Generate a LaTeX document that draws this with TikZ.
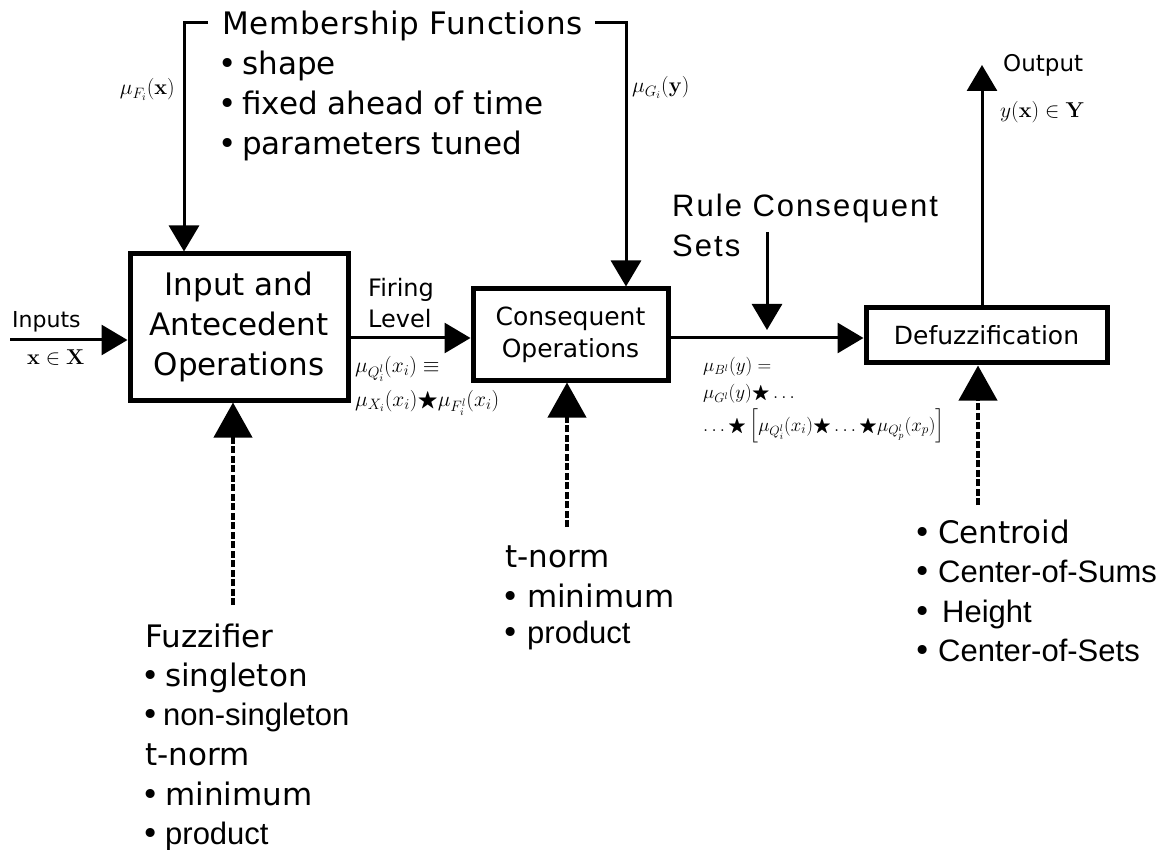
\RequirePackage{fix-cm}
\documentclass[tikz,border=0pt]{standalone}
\usepackage{amssymb}
\usepackage[no-math]{fontspec}
\setmainfont{DejaVu Sans}
\newfontfamily\lib{Liberation Sans}
\newfontfamily\libsp[LetterSpace=6.5]{Liberation Sans}
\newfontfamily\dvsp[LetterSpace=2]{DejaVu Sans}
\usetikzlibrary{arrows.meta}
\newcommand\bl[1]{\makebox[#1][l]{•}}
\begin{document}
\begin{tikzpicture}[x=1pt,y=-1pt,
  box/.style={draw, line width=5pt, rectangle, inner sep=0pt, align=center},
  conn/.style={line width=3pt, -{Triangle[length=26pt,width=30pt]}},
  dconn/.style={line width=4pt, dash pattern=on 7pt off 2.5pt, -{Triangle[length=35pt,width=38pt]}},
  lab/.style={inner sep=0pt, anchor=base west},
  big/.style={font=\fontsize{31}{40}\selectfont},
  mth/.style={inner sep=0pt, font=\fontsize{19}{23}\selectfont},
  mthb/.style={inner sep=0pt, font=\fontsize{21.5}{25}\selectfont}]
\useasboundingbox (0,0) rectangle (1173,850);
% boxes
\node[box, minimum width=218pt, minimum height=146pt, font=\fontsize{31}{40}\selectfont] (b1) at (239,327) {Input and\\Antecedent\\Operations};
\node[box, minimum width=195pt, minimum height=91pt, font=\fontsize{25}{32}\selectfont] (b2) at (570.5,334.5) {Consequent\\Operations};
\node[box, minimum width=241pt, minimum height=55pt, font=\fontsize{25}{30}\selectfont] (b3) at (986.5,335.5) {Defuzzification};
% membership functions
\node[lab, font=\fontsize{31}{40}\dvsp] (mf) at (222,35) {Membership Functions};
\node[lab,big] (mf1) at (218,75) {\bl{24pt}shape};
\node[lab,big] (mf2) at (218,115) {\bl{24pt}fixed ahead of time};
\node[lab,big] (mf3) at (218,155) {\bl{24pt}parameters tuned};
\coordinate (mfL) at (208,23);
\coordinate (mfR) at (595,23);
\coordinate (mfx) at (184,0);
\coordinate (mgx) at (626,0);
\draw[conn] (mfL) -| (mfx |- b1.north);
\draw[conn] (mfR) -| (mgx |- b2.north);
\node[mthb, anchor=base east] (muF) at (175,95) {$\mu_{F_i}(\mathbf{x})$};
\node[mthb, anchor=base west] (muG) at (632,93) {$\mu_{G_i}(\mathbf{y})$};
% inputs
\coordinate (inp) at (10,340);
\draw[conn] (inp) -- (inp -| b1.west);
\node[lab, font=\fontsize{22}{26}\selectfont] (inl) at (12,327) {Inputs};
\node[mthb, anchor=base west] (inx) at (27,365) {$\mathbf{x}\in\mathbf{X}$};
% firing level
\coordinate (fy) at (0,338);
\draw[conn] (fy -| b1.east) -- (fy -| b2.west);
\node[lab, font=\fontsize{24}{30}\selectfont] (fl1) at (368,297) {Firing};
\node[lab, font=\fontsize{24}{30}\selectfont] (fl2) at (368,328) {Level};
\node[mthb, anchor=base west] (fq1) at (355,372) {$\mu_{Q_i^l}(x_i)\equiv$};
\node[mthb, anchor=base west] (fq2) at (355,406) {$\mu_{X_i}(x_i)\bigstar\mu_{F_i^l}(x_i)$};
% consequent to defuzz
\draw[conn] (fy -| b2.east) -- (fy -| b3.west);
\node[lab, font=\fontsize{31}{38}\libsp] (rc1) at (672,217) {Rule Consequent};
\node[lab, font=\fontsize{31}{38}\libsp] (rc2) at (672,257) {Sets};
\coordinate (rcs) at (767,232);
\coordinate (rce) at (767,330);
\draw[conn] (rcs) -- (rce);
\node[mth, anchor=base west] (fb1) at (703,371) {$\mu_{B^l}(y)=$};
\node[mth, anchor=base west] (fb2) at (703,399) {$\mu_{G^l}(y)\bigstar\ldots$};
\node[mth, anchor=base west] (fb3) at (703,431) {$\ldots\bigstar\left[\mu_{Q_i^l}(x_i)\bigstar\ldots\bigstar\mu_{Q_p^l}(x_p)\right]$};
% output
\coordinate (outp) at (982,65);
\draw[conn] (outp |- b3.north) -- (outp);
\node[lab, font=\fontsize{23}{28}\selectfont] (outl) at (1003,72) {Output};
\node[mthb, anchor=base west] (outy) at (1000,118) {$y(\mathbf{x})\in\mathbf{Y}$};
% bottom dashed arrows
\coordinate (fzt) at (233,605);
\draw[dconn] (fzt) -- (fzt |- b1.south);
\coordinate (tnt) at (567,527);
\draw[dconn] (tnt) -- (tnt |- b2.south);
\coordinate (dft) at (978,505);
\draw[dconn] (dft) -- (dft |- b3.south);
% fuzzifier list
\node[lab,big] (fz0) at (145,647) {Fuzzifier};
\node[lab,big] (fz1) at (141,686) {\bl{24pt}singleton};
\node[lab,big] (fz2) at (141,725) {\bl{22pt}{\lib non-singleton}};
\node[lab,big] (fz3) at (145,765) {t-norm};
\node[lab,big] (fz4) at (141,805) {\bl{24pt}minimum};
\node[lab,big] (fz5) at (141,844) {\bl{24pt}{\lib product}};
% middle list
\node[lab,big] (tn0) at (505,567) {t-norm};
\node[lab,big] (tn1) at (501,607) {\bl{26pt}minimum};
\node[lab,big] (tn2) at (501,643) {\bl{26pt}{\lib product}};
% right list
\node[lab,big] (df1) at (913,543) {\bl{25pt}Centroid};
\node[lab,big] (df2) at (913,582) {\bl{25pt}{\lib Center-of-Sums}};
\node[lab,big] (df3) at (913,622) {\bl{29pt}{\lib Height}};
\node[lab,big] (df4) at (913,661) {\bl{25pt}{\lib Center-of-Sets}};
\end{tikzpicture}
\end{document}
